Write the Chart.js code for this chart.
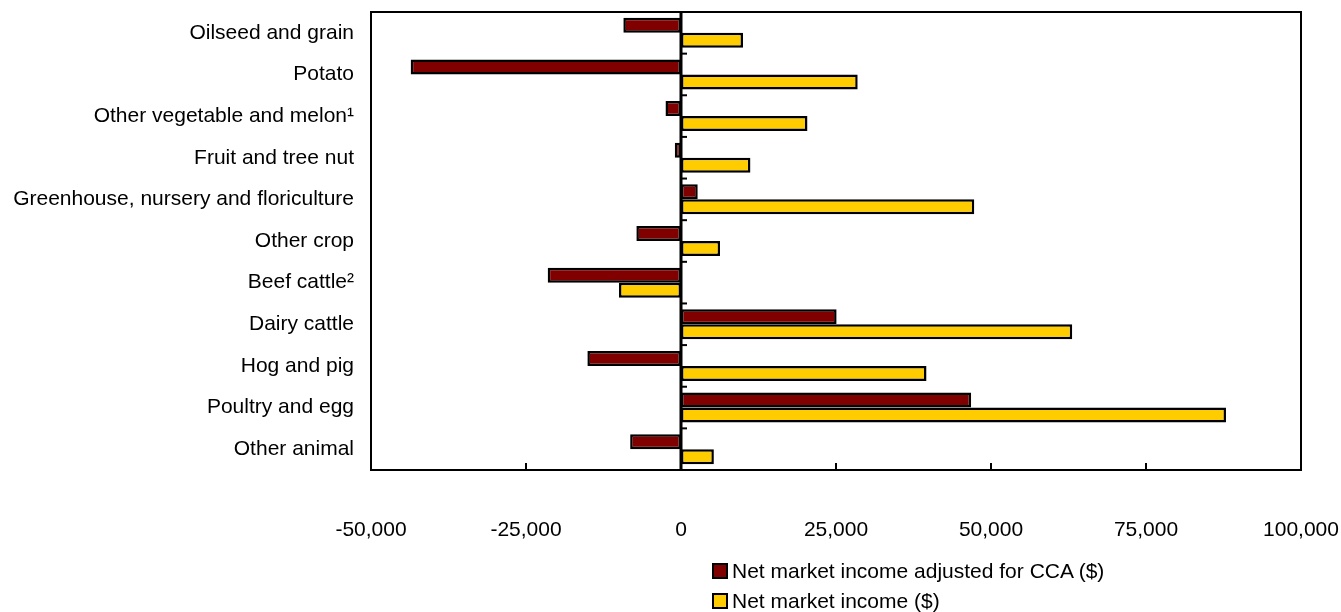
<!DOCTYPE html>
<html>
<head>
<meta charset="utf-8">
<script src="https://cdn.jsdelivr.net/npm/chart.js@4/dist/chart.umd.min.js"></script>
<style>
    body { margin: 0; background: #fff; }
    #wrap { position: relative; width: 1341px; height: 612px; }
    #legend { position: absolute; left: 712px; top: 556px; font-family: 'Liberation Sans', Arial, sans-serif; font-size: 21px; color: #000; }
    #legend div { display: flex; align-items: center; height: 30px; }
    #legend span.box { display: inline-block; width: 12px; height: 12px; border: 2px solid #000; margin-right: 4px; }
</style>
</head>
<body>
<div id="wrap">
    <canvas id="barChart"></canvas>
    <div id="legend"></div>
</div>
<script>
// Categories, top to bottom
const categories = [
    'Oilseed and grain',
    'Potato',
    'Other vegetable and melon\u00B9',
    'Fruit and tree nut',
    'Greenhouse, nursery and floriculture',
    'Other crop',
    'Beef cattle\u00B2',
    'Dairy cattle',
    'Hog and pig',
    'Poultry and egg',
    'Other animal'
];

const seriesNames = ['Net market income adjusted for CCA ($)', 'Net market income ($)'];

// Values
const adjustedForCCA = [-9300, -43600, -2500, -1000, 2700, -7200, -21500, 25100, -15100, 46800, -8200];
const netMarketIncome = [10000, 28500, 20400, 11200, 47300, 6300, -10000, 63100, 39600, 87900, 5300];

const xTicks = [-50000, -25000, 0, 25000, 50000, 75000, 100000];

const colors = ['#800000', '#ffcc00'];

// Frame, zero-line ticks and inward axis ticks
const framePlugin = {
    id: 'frame',
    afterDatasetsDraw(chart) {
        const ctx = chart.ctx;
        const a = chart.chartArea;
        const x = chart.scales.x;
        const zero = x.getPixelForValue(0);
        ctx.save();
        ctx.strokeStyle = '#000';
        ctx.lineWidth = 3;
        // zero line
        ctx.beginPath();
        ctx.moveTo(zero, a.top);
        ctx.lineTo(zero, a.bottom);
        ctx.stroke();
        // category ticks on the zero line
        ctx.lineWidth = 2;
        for (let i = 0; i <= categories.length; i++) {
            const py = a.top + (a.bottom - a.top) * i / categories.length;
            ctx.beginPath();
            ctx.moveTo(zero, py);
            ctx.lineTo(zero + 6, py);
            ctx.stroke();
        }
        // x ticks pointing into the plot
        xTicks.forEach(v => {
            const px = x.getPixelForValue(v);
            ctx.beginPath();
            ctx.moveTo(px, a.bottom);
            ctx.lineTo(px, a.bottom - 7);
            ctx.stroke();
        });
        // box
        ctx.lineWidth = 2;
        ctx.strokeRect(a.left, a.top, a.right - a.left, a.bottom - a.top);
        ctx.restore();
    }
};

function noScalePadding(scale) {
    scale.paddingLeft = 0;
    scale.paddingRight = 0;
    scale.paddingTop = 0;
    scale.paddingBottom = 0;
}

const ctx = document.getElementById('barChart').getContext('2d');

var barChart = new Chart(ctx, {
    type: 'bar',
    data: {
        labels: categories,
        datasets: [{
            label: seriesNames[0],
            data: adjustedForCCA,
            backgroundColor: colors[0],
            borderColor: '#000',
            borderWidth: 2.5,
            borderSkipped: false,
            categoryPercentage: 0.72,
            barPercentage: 1.0
        }, {
            label: seriesNames[1],
            data: netMarketIncome,
            backgroundColor: colors[1],
            borderColor: '#000',
            borderWidth: 2.5,
            borderSkipped: false,
            categoryPercentage: 0.72,
            barPercentage: 1.0
        }]
    },
    options: {
        indexAxis: 'y',
        responsive: true,
        maintainAspectRatio: false,
        animation: false,
        layout: {
            padding: { top: 12, right: 40, bottom: 67, left: 0 }
        },
        plugins: {
            legend: { display: false },
            tooltip: { enabled: false }
        },
        scales: {
            x: {
                min: -50000,
                max: 100000,
                afterBuildTicks(scale) {
                    scale.ticks = xTicks.map(v => ({ value: v }));
                },
                afterFit(scale) {
                    scale.height = 75;
                    noScalePadding(scale);
                },
                grid: { display: false, drawTicks: false },
                border: { display: false },
                ticks: {
                    padding: 48,
                    color: '#000',
                    font: { family: "'Liberation Sans', Arial, sans-serif", size: 21 },
                    maxRotation: 0,
                    callback: v => v.toLocaleString('en-US')
                }
            },
            y: {
                afterFit(scale) {
                    scale.width = 371;
                    noScalePadding(scale);
                },
                grid: { display: false, drawTicks: false },
                border: { display: false },
                ticks: {
                    padding: 17,
                    color: '#000',
                    font: { family: "'Liberation Sans', Arial, sans-serif", size: 21 }
                }
            }
        }
    },
    plugins: [framePlugin]
});

// HTML legend stacked vertically
const legendEl = document.getElementById('legend');
barChart.data.datasets.forEach(ds => {
    const row = document.createElement('div');
    const box = document.createElement('span');
    box.className = 'box';
    box.style.background = ds.backgroundColor;
    row.appendChild(box);
    row.appendChild(document.createTextNode(ds.label));
    legendEl.appendChild(row);
});
</script>
</body>
</html>
